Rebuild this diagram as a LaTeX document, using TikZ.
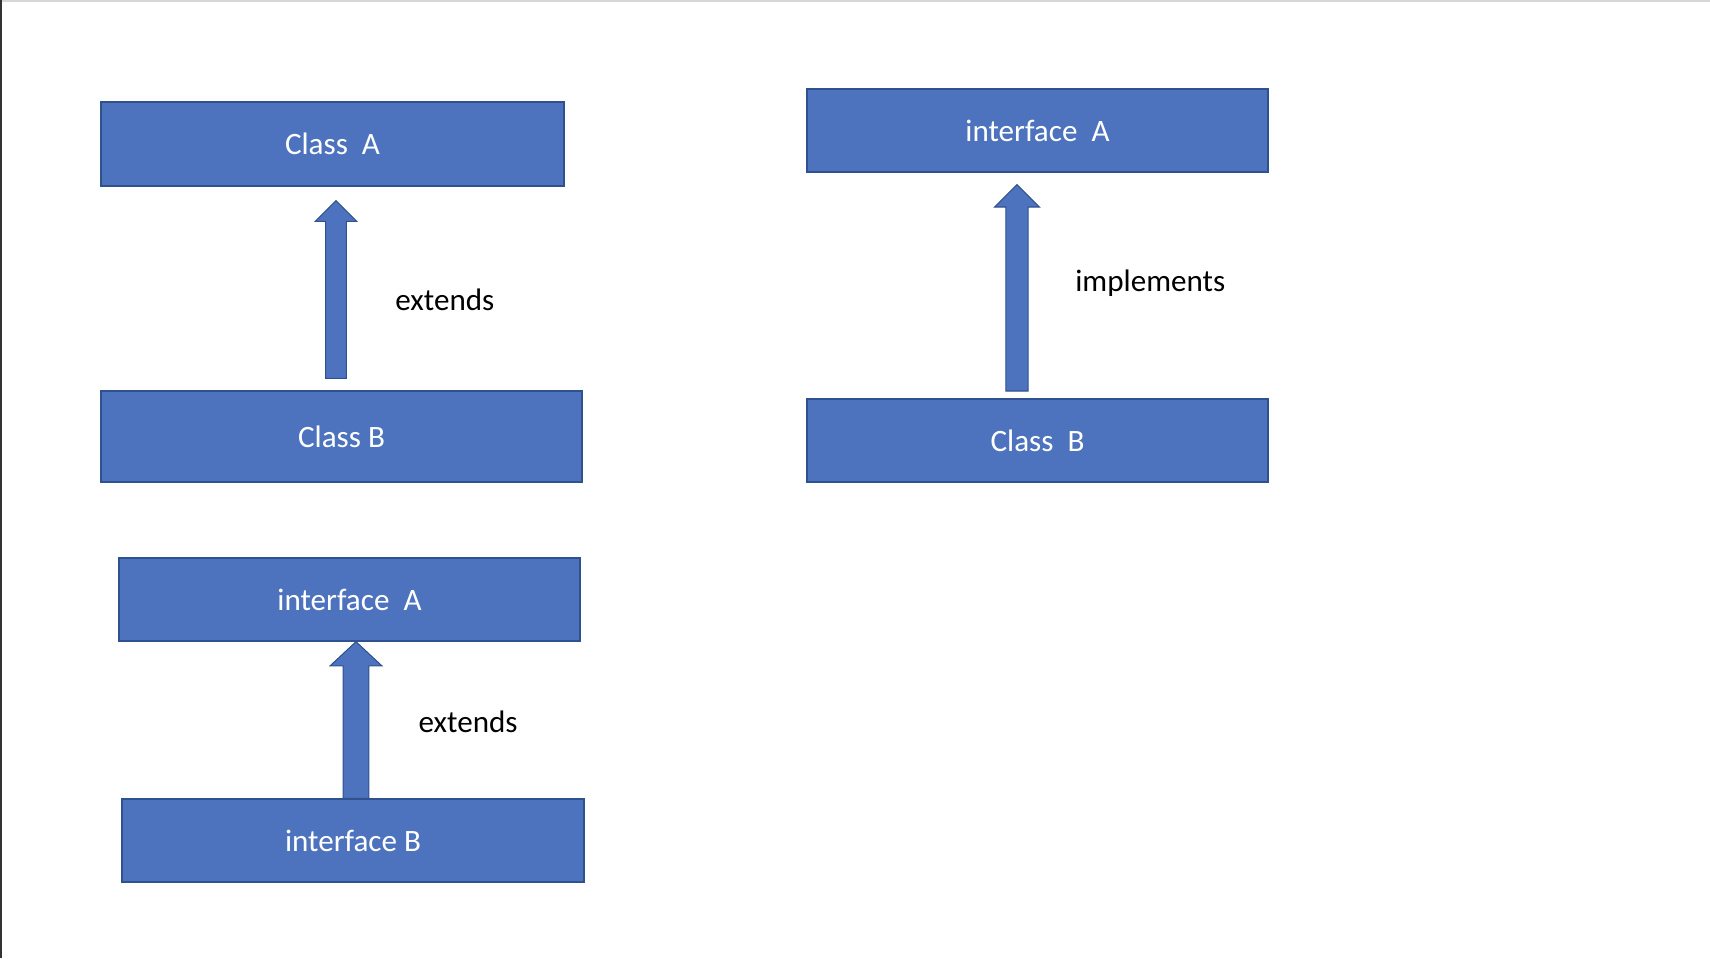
\documentclass[tikz,border=0pt]{standalone}
\usepackage{fontspec}
\setmainfont{Carlito}
\usetikzlibrary{positioning}
\usetikzlibrary{calc}

\definecolor{boxblue}{HTML}{4E73BE}
\definecolor{boxline}{HTML}{2F528F}

% block arrow: tail, tip, shaft half width, head half width, head length
\newcommand{\blockarrow}[5]{%
  \draw[blk] let \p1=(#1), \p2=(#2) in
    (\x1-#3,\y1) -- (\x1-#3,\y2-#5) -- (\x1-#4,\y2-#5) -- (\x1,\y2)
    -- (\x1+#4,\y2-#5) -- (\x1+#3,\y2-#5) -- (\x1+#3,\y1) -- cycle;}

\begin{document}
\begin{tikzpicture} [
    x=0.02cm, y=-0.02cm,        % pixel grid, y going down
    font=\fontsize{17.7}{21}\selectfont,
    ]
% -------------------------------------------------
\tikzset{
  base/.style={draw=boxline, fill=boxblue, line width=0.8pt, text=white, align=center},
  rect/.style={base, rectangle, minimum height=1.66cm},
  lbl/.style={anchor=base west, inner sep=0pt},
  blk/.style={draw=boxline, fill=boxblue, line width=0.6pt}
}

    \useasboundingbox (0,0) rectangle (1710,958);
    \fill[black!80] (0,0) rectangle (2.5,958);                        % left edge
    \fill[black!16] (2.5,0) rectangle (1710,1.8);                     % top edge

    \node [rect, minimum width=9.26cm, minimum height=1.68cm] (clsA) at (332.5,144) {Class~~A};
    \node [rect, minimum width=9.62cm, minimum height=1.82cm] (clsB) at (341.5,436.5) {Class B};
    \node [rect, minimum width=9.22cm] (ifaR) at (1037.5,130.5) {interface~~A};
    \node [rect, minimum width=9.22cm] (clsR) at (1037.5,440.5) {Class~~B};
    \node [rect, minimum width=9.22cm] (ifaL) at (349.5,599.5) {interface~~A};
    \node [rect, minimum width=9.24cm] (ifB) at (353,840.5) {interface B};

    \blockarrow{$(clsB.north)+(-5.5,-12)$}{$(clsA.south)+(3.5,14)$}{5.9pt}{11.9pt}{11.8pt}
    \blockarrow{$(clsR.north)+(-20.5,-7.3)$}{$(ifaR.south)+(-20.5,12)$}{6.3pt}{12.8pt}{12.7pt}
    \blockarrow{$(ifB.north)+(3,0)$}{$(ifaL.south)+(6.5,0)$}{7.3pt}{14.8pt}{13.8pt}

    \node [lbl] (ext1) at (395,310.7) {extends};
    \node [lbl] (impl) at (1075,291.7) {implements};
    \node [lbl] (ext2) at (418.3,732.7) {extends};

\end{tikzpicture}
\end{document}
